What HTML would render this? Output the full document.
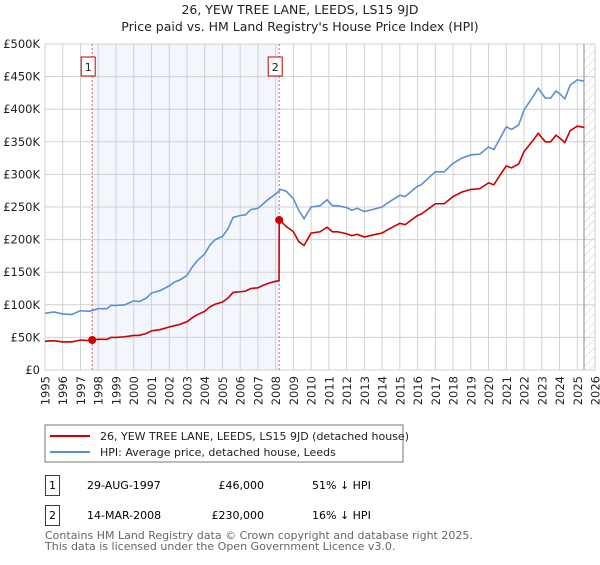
<!DOCTYPE html>
<html><head><meta charset="utf-8"><style>
body{margin:0;background:#fff;font-family:"Liberation Sans","DejaVu Sans",sans-serif;}
svg text{font-family:"DejaVu Sans","Liberation Sans",sans-serif;}
</style></head><body>
<svg id="c" width="600" height="560" xmlns="http://www.w3.org/2000/svg">
<defs><pattern id="hatch" width="6" height="6" patternUnits="userSpaceOnUse" patternTransform="rotate(45)"><line x1="0" y1="0" x2="0" y2="6" stroke="#ccc" stroke-width="1"/></pattern></defs>
<text x="300" y="14" text-anchor="middle" font-size="12.5" fill="#222">26, YEW TREE LANE, LEEDS, LS15 9JD</text>
<text x="300" y="31" text-anchor="middle" font-size="12.5" fill="#222">Price paid vs. HM Land Registry's House Price Index (HPI)</text>
<g id="plot"></g>
<rect x="45" y="425" width="358" height="37" fill="#fff" stroke="#777"/>
<line x1="50" y1="436" x2="90" y2="436" stroke="#cc0000" stroke-width="2"/>
<text x="100" y="440" font-size="11" fill="#222">26, YEW TREE LANE, LEEDS, LS15 9JD (detached house)</text>
<line x1="50" y1="452" x2="90" y2="452" stroke="#5b8fd4" stroke-width="2"/>
<text x="100" y="456" font-size="11" fill="#222">HPI: Average price, detached house, Leeds</text>
<g>
<rect x="45.5" y="475.5" width="14" height="20" fill="none" stroke="#cc0000"/>
<text x="52.5" y="489" text-anchor="middle" font-size="11">1</text>
<text x="87" y="489" font-size="11">29-AUG-1997</text>
<text x="264" y="489" text-anchor="end" font-size="11">£46,000</text>
<text x="312" y="489" font-size="11">51% ↓ HPI</text></g>
<g>
<rect x="45.5" y="505.5" width="14" height="20" fill="none" stroke="#cc0000"/>
<text x="52.5" y="519" text-anchor="middle" font-size="11">2</text>
<text x="87" y="519" font-size="11">14-MAR-2008</text>
<text x="264" y="519" text-anchor="end" font-size="11">£230,000</text>
<text x="312" y="519" font-size="11">16% ↓ HPI</text></g>
<text x="45" y="539" font-size="11" fill="#666">Contains HM Land Registry data © Crown copyright and database right 2025.</text>
<text x="45" y="550" font-size="11" fill="#666">This data is licensed under the Open Government Licence v3.0.</text>
</svg>
<script>
const hpiYears=[1995,1995.5,1996,1996.5,1997,1997.5,1998,1998.5,1998.7,1999,1999.5,2000,2000.3,2000.7,2001,2001.5,2002,2002.3,2002.6,2003,2003.3,2003.6,2004,2004.3,2004.6,2005,2005.3,2005.6,2006,2006.3,2006.6,2007,2007.3,2007.6,2008,2008.3,2008.6,2009,2009.3,2009.6,2010,2010.5,2010.9,2011.2,2011.5,2012,2012.3,2012.6,2013,2013.3,2014,2014.3,2015,2015.3,2016,2016.2,2017,2017.5,2018,2018.5,2019,2019.5,2020,2020.3,2020.7,2021,2021.3,2021.7,2022,2022.5,2022.8,2023.2,2023.5,2023.8,2024,2024.3,2024.6,2025,2025.4];
const hpiValues=[87,89,86,85,91,90,94,94,99,99,100,106,105,110,118,122,129,135,138,145,158,168,178,192,200,205,216,234,237,238,246,248,255,262,270,277,274,263,245,232,250,252,261,252,252,249,245,248,243,245,250,256,268,266,282,284,304,304,317,325,330,331,342,338,358,373,369,376,399,419,432,417,417,428,424,416,437,445,443];
const propYears=[1995,1995.5,1996,1996.5,1997,1997.5,1997.66,1998,1998.5,1998.7,1999,1999.5,2000,2000.3,2000.7,2001,2001.5,2002,2002.3,2002.6,2003,2003.3,2003.6,2004,2004.3,2004.6,2005,2005.3,2005.6,2006,2006.3,2006.6,2007,2007.3,2007.6,2008,2008.19,2008.2,2008.3,2008.6,2009,2009.3,2009.6,2010,2010.5,2010.9,2011.2,2011.5,2012,2012.3,2012.6,2013,2013.3,2014,2014.3,2015,2015.3,2016,2016.2,2017,2017.5,2018,2018.5,2019,2019.5,2020,2020.3,2020.7,2021,2021.3,2021.7,2022,2022.5,2022.8,2023.2,2023.5,2023.8,2024,2024.3,2024.6,2025,2025.4];
const propValues=[44,45,43,43,46,45,46,47,47,50,50,51,53,53,56,60,62,66,68,70,74,80,85,90,97,101,104,110,119,120,121,125,126,130,133,136,137,230,228,220,212,197,191,210,212,219,212,212,209,206,208,204,206,210,215,225,223,237,239,255,255,266,273,277,278,287,284,301,313,310,316,335,352,363,350,350,360,356,349,367,374,372];
const sales=[{y:1997.66,v:46,n:'1'},{y:2008.2,v:230,n:'2'}];
const yTicks=[0,50,100,150,200,250,300,350,400,450,500];
const yTickLabels=['£0','£50K','£100K','£150K','£200K','£250K','£300K','£350K','£400K','£450K','£500K'];
const xTicks=[];for(let y=1995;y<=2026;y++)xTicks.push(y);
const L=45,R=595,T=44,B=370,X0=1995,X1=2026,YMAX=500;
const sx=y=>L+(y-X0)/(X1-X0)*(R-L);
const sy=v=>B-v/YMAX*(B-T);
const NS='http://www.w3.org/2000/svg';
const g=document.getElementById('plot');
function mk(t,a,p){const e=document.createElementNS(NS,t);for(const k in a)e.setAttribute(k,a[k]);(p||g).appendChild(e);return e;}
let e;
e=mk('rect',{x:sx(sales[0].y),y:T,width:sx(sales[1].y)-sx(sales[0].y),height:B-T,fill:'#eef3fc',opacity:0.7});


e=mk('rect',{x:sx(2025.38),y:T,width:R-sx(2025.38),height:B-T,fill:'url(#hatch)'});


xTicks.forEach(y=>{const x=sx(y);
 e=mk('line',{x1:x,y1:T,x2:x,y2:B,stroke:'#d0d0d0'});
 
 
 e=mk('text',{x:0,y:0,'text-anchor':'end','font-size':'11.5',fill:'#222',transform:'translate('+(x+4.5)+',376) rotate(-90)'});e.textContent=y;
 
 
});
yTicks.forEach((v,i)=>{const y=sy(v);
 e=mk('line',{x1:L,y1:y,x2:R,y2:y,stroke:'#d0d0d0'});
 
 
 e=mk('text',{x:40,y:y+4,'text-anchor':'end','font-size':'11.5',fill:'#222'});e.textContent=yTickLabels[i];
 
 
});
e=mk('line',{x1:sx(2025.38),y1:T,x2:sx(2025.38),y2:B,stroke:'#888'});


sales.forEach(s=>{const x=sx(s.y);
 e=mk('line',{x1:x,y1:T,x2:x,y2:B,stroke:'#e06060','stroke-dasharray':'2,2'});
 
 
 e=mk('rect',{x:x-11,y:57,width:14,height:19,fill:'#fff',stroke:'#cc0000'});
 
 
 e=mk('text',{x:x-4,y:71,'text-anchor':'middle','font-size':'11',fill:'#222'});e.textContent=s.n;
 
 
});
e=mk('polyline',{points:hpiYears.map((y,i)=>sx(y)+','+sy(hpiValues[i])).join(' '),fill:'none',stroke:'#5b8fd4','stroke-width':1.6});


e=mk('polyline',{points:propYears.map((y,i)=>sx(y)+','+sy(propValues[i])).join(' '),fill:'none',stroke:'#cc0000','stroke-width':1.6});


sales.forEach(s=>{e=mk('circle',{cx:sx(s.y),cy:sy(s.v),r:4,fill:'#cc0000'});
 
 
});
</script>
</body></html>
